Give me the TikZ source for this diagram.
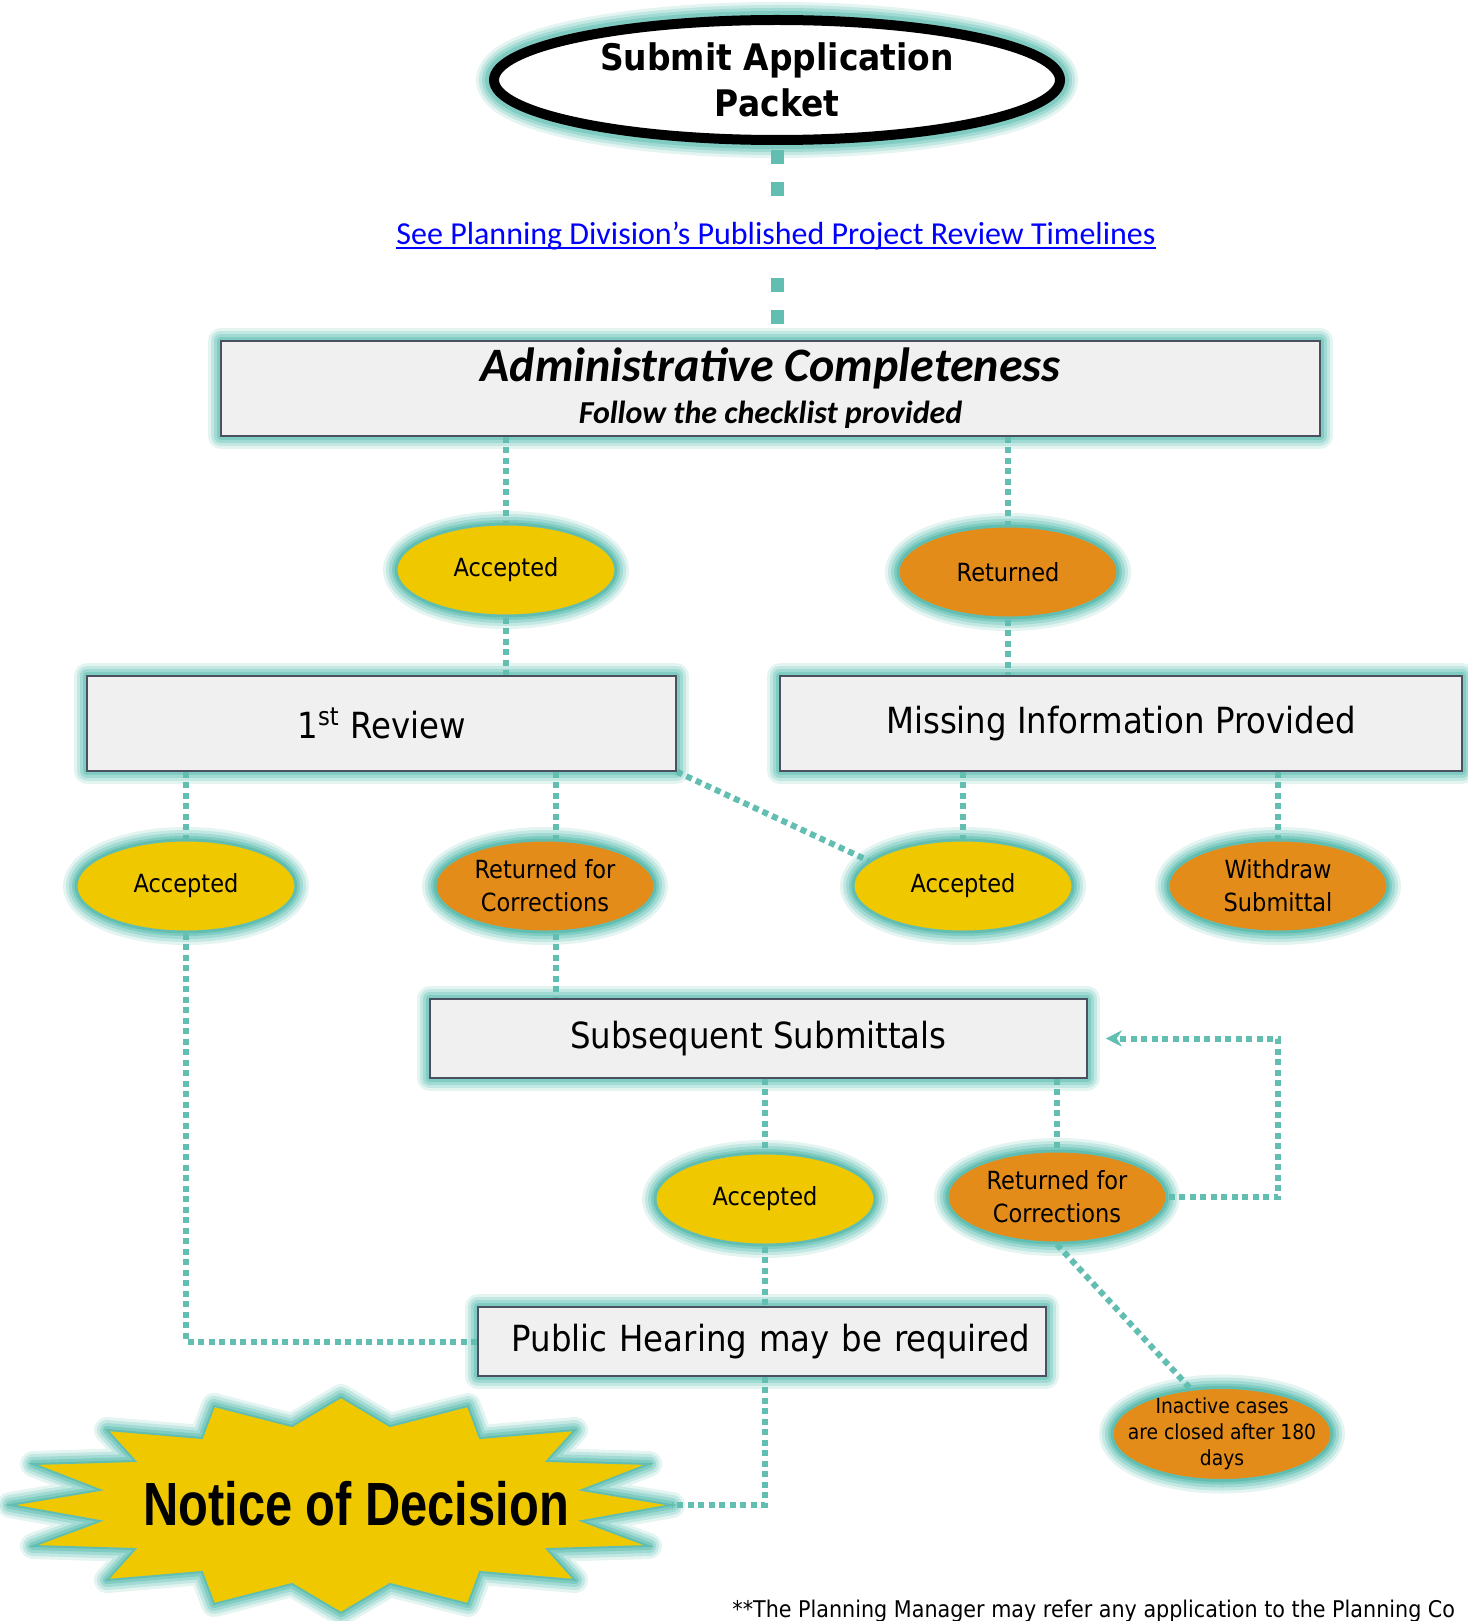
\documentclass[tikz,border=0pt]{standalone}
\usepackage{fontspec}
\usetikzlibrary{shapes.geometric,arrows.meta}
\newfontfamily\bodyfont{DejaVu Sans}[FakeStretch=0.9]
\newfontfamily\califont{Carlito}
\newfontfamily\narrowfont{Liberation Sans}[FakeStretch=0.8]
\newsavebox\ulinebox
\newcommand\ulinetext[1]{\sbox\ulinebox{#1}\rlap{\rule[-2pt]{\wd\ulinebox}{0.8pt}}\usebox\ulinebox}
\definecolor{tealline}{HTML}{63BEB2}
\definecolor{glowa}{HTML}{80CCC2}
\definecolor{glowb}{HTML}{A0DAD2}
\definecolor{glowc}{HTML}{C3E8E3}
\definecolor{glowd}{HTML}{E3F4F1}
\definecolor{accyellow}{HTML}{F0C800}
\definecolor{retorange}{HTML}{E38C1A}
\definecolor{boxgray}{HTML}{F0F0F0}
\definecolor{boxedge}{HTML}{4A5060}
\begin{document}
\begin{tikzpicture}[x=0.5pt, y=-0.5pt,
	glow/.style = {preaction={draw=glowd, line width=13pt, line join=round},
		preaction={draw=glowc, line width=10pt, line join=round},
		preaction={draw=glowb, line width=7pt, line join=round},
		preaction={draw=glowa, line width=4pt, line join=round}},
	box/.style = {rectangle, draw=boxedge, fill=boxgray, line width=0.8pt, glow, inner sep=0pt,
		minimum height=47.5pt, font=\bodyfont\fontsize{18}{22}\selectfont},
	oval/.style = {ellipse, draw=tealline, line width=1.5pt, glow, inner sep=0pt, align=center,
		minimum width=110pt, minimum height=46pt, font=\bodyfont\fontsize{12.5}{16.5}\selectfont},
	accepted/.style = {oval, fill=accyellow},
	returned/.style = {oval, fill=retorange},
	link/.style = {draw=tealline, line width=3pt, dash pattern=on 3pt off 2.25pt},
	biglink/.style = {draw=tealline, line width=6.5pt, dash pattern=on 7pt off 9pt}]
	\useasboundingbox (0,0) rectangle (1467,1621);

	% top of the chart
	\node[ellipse, draw=black, fill=white, line width=5pt, inner sep=0pt, align=center,
		preaction={draw=glowd, line width=18pt}, preaction={draw=glowc, line width=15pt},
		preaction={draw=glowb, line width=12pt}, preaction={draw=glowa, line width=9pt},
		minimum width=283pt, minimum height=60pt,
		font=\bodyfont\bfseries\fontsize{18.3}{22.7}\selectfont] (submit) at (777,80) {Submit Application\\Packet};
	\node[text=blue, inner ysep=9pt, text height=12pt, text depth=4pt,
		font=\califont\fontsize{16}{19}\selectfont] (timeline) at (776,237) {\ulinetext{See Planning Division’s Published Project Review Timelines}};
	\node[box, minimum width=549.5pt, align=center,
		font=\califont\bfseries\itshape\fontsize{16}{21}\selectfont] (admin) at (770.5,388.5) {{\fontsize{24}{26}\selectfont Administrative Completeness}\\Follow the checklist provided};

	\node[accepted] (acc1) at (506,570) {Accepted};
	\node[returned] (ret1) at (1008,572) {Returned};

	\node[box, minimum width=294.5pt] (review) at (381.5,723.5) {1\textsuperscript{st} Review};
	\node[box, minimum width=341pt] (missing) at (1121,723.5) {Missing Information Provided};

	\node[accepted] (acc2) at (186,886) {Accepted};
	\node[returned] (ret2) at (545,886) {Returned for\\Corrections};
	\node[accepted] (acc3) at (963,886) {Accepted};
	\node[returned] (withdraw) at (1278,886) {Withdraw\\Submittal};

	\node[box, minimum width=328.5pt, minimum height=39.5pt] (subseq) at (758.5,1038.5) {Subsequent Submittals};

	\node[accepted] (acc4) at (765,1199) {Accepted};
	\node[returned] (ret3) at (1057,1197) {Returned for\\Corrections};

	\node[box, minimum height=34.5pt, text width=268pt, align=right, inner xsep=8pt] (hearing) at (762,1341.5) {Public Hearing may be required};
	\node[returned, inner xsep=-12pt, inner ysep=-6pt, minimum height=46.5pt,
		font=\bodyfont\fontsize{10.4}{13}\selectfont] (inactive) at (1222,1434) {Inactive cases\\are closed after 180\\days};

	% notice of decision star
	\draw[glow, fill=accyellow, draw=tealline, line width=1pt]
		(341,1397) -- (390,1426) -- (468,1406) -- (480,1438) -- (575,1430) -- (547,1461)
		-- (649,1464) -- (582,1490) -- (672,1505) -- (582,1521) -- (649,1546) -- (547,1549)
		-- (575,1580) -- (480,1572) -- (468,1604) -- (390,1584) -- (341,1613) -- (292,1584)
		-- (214,1604) -- (202,1572) -- (107,1580) -- (135,1549) -- (33,1546) -- (100,1521)
		-- (10,1505) -- (100,1490) -- (33,1464) -- (135,1461) -- (107,1430) -- (202,1438)
		-- (214,1406) -- (292,1426) -- cycle;
	\coordinate (decisiontip) at (672,1505);
	\node[font=\narrowfont\bfseries\fontsize{30.5}{34}\selectfont] (decision) at (356,1504) {Notice of Decision};

	\node[anchor=base west, inner sep=0pt, font=\bodyfont\fontsize{11.5}{13}\selectfont] (footnote) at (732,1617) {**The Planning Manager may refer any application to the Planning Co};

	% connectors
	\draw[biglink, shorten <=2.5pt] (submit.south) -- (submit.south |- timeline.north);
	\draw[biglink, shorten <=3.5pt] (timeline.south -| submit) -- (admin.north -| submit);
	\draw[link] (admin.south -| acc1) -- (acc1);
	\draw[link] (acc1.south) -- (acc1.south |- review.north);
	\draw[link] (admin.south -| ret1) -- (ret1);
	\draw[link] (ret1.south) -- (ret1.south |- missing.north);
	\draw[link] (review.south -| acc2) -- (acc2);
	\draw[link] ([xshift=5.5pt]ret2.north |- review.south) -- ([xshift=5.5pt]ret2.north);
	\draw[link] (review.south east) -- (acc3.165);
	\draw[link] (missing.south -| acc3) -- (acc3);
	\draw[link] (missing.south -| withdraw) -- (withdraw);
	\draw[link] ([xshift=5.5pt]ret2.south) -- ([xshift=5.5pt]ret2.south |- subseq.north);
	\draw[link] (subseq.south -| acc4) -- (acc4);
	\draw[link] (subseq.south -| ret3) -- (ret3);
	\draw[link, -{Stealth[length=8pt, width=8pt]}] (ret3.east) -| (withdraw |- subseq.east) -- ([xshift=9pt]subseq.east);
	\draw[link] (acc4.south) -- (acc4.south |- hearing.north);
	\draw[link] (acc2.south) |- (hearing.west);
	\draw[link] (hearing.south -| acc4) |- (decisiontip);
	\draw[link] (ret3.south) -- (inactive.125);
\end{tikzpicture}
\end{document}
